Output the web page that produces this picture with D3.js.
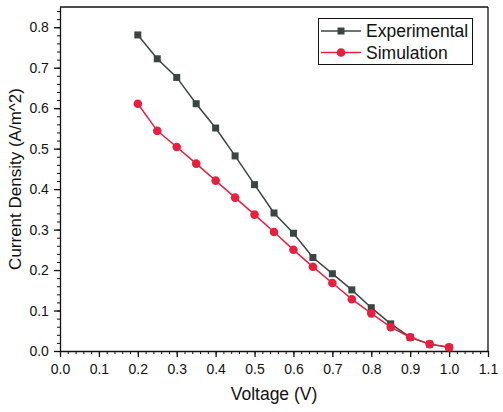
<!DOCTYPE html>
<html>
<head>
<meta charset="utf-8">
<script src="https://cdn.jsdelivr.net/npm/d3@7"></script>
<style>
  body { margin: 0; background: #fff; }
  svg { display: block; font-family: "Liberation Sans", Arial, sans-serif; }
</style>
</head>
<body>
<div id="chart"></div>
<script>
const voltage = [0.2, 0.25, 0.3, 0.35, 0.4, 0.45, 0.5, 0.55, 0.6, 0.65, 0.7, 0.75, 0.8, 0.85, 0.9, 0.95, 1.0];
const experimental = [0.781, 0.722, 0.676, 0.611, 0.551, 0.482, 0.411, 0.341, 0.291, 0.231, 0.191, 0.151, 0.107, 0.067, 0.034, 0.017, 0.009];
const simulation = [0.611, 0.544, 0.504, 0.463, 0.421, 0.379, 0.337, 0.294, 0.25, 0.208, 0.168, 0.128, 0.093, 0.059, 0.034, 0.017, 0.009];
const seriesNames = ["Experimental", "Simulation"];
const xTicks = [0, 0.1, 0.2, 0.3, 0.4, 0.5, 0.6, 0.7, 0.8, 0.9, 1.0, 1.1];
const yTicks = [0, 0.1, 0.2, 0.3, 0.4, 0.5, 0.6, 0.7, 0.8];

const width = 503, height = 412;
const margin = { top: 7, right: 15, bottom: 61, left: 60 };
const grey = "#3d4543", red = "#e8203f";

const svg = d3.select("#chart").append("svg")
  .attr("width", width)
  .attr("height", height);

const x = d3.scaleLinear()
  .domain([0, 1.1])
  .range([margin.left, width - margin.right]);

const y = d3.scaleLinear()
  .domain([0, 0.85])
  .range([height - margin.bottom, margin.top]);

// Minor ticks every 0.02
const xMinor = d3.range(0, 1.1001, 0.02);
const yMinor = d3.range(0, 0.8501, 0.02);

svg.append("g")
  .attr("transform", `translate(0,${y(0)})`)
  .call(d3.axisBottom(x).tickValues(xMinor).tickSize(3).tickFormat(""))
  .call(g => g.select(".domain").remove())
  .selectAll("line").attr("stroke", "#111");

svg.append("g")
  .attr("transform", `translate(${x(0)},0)`)
  .call(d3.axisLeft(y).tickValues(yMinor).tickSize(3).tickFormat(""))
  .call(g => g.select(".domain").remove())
  .selectAll("line").attr("stroke", "#111");

// Major ticks
const xAxis = svg.append("g")
  .attr("transform", `translate(0,${y(0)})`)
  .call(d3.axisBottom(x).tickValues(xTicks).tickSize(6).tickSizeOuter(0).tickFormat(d3.format(".1f")));

const yAxis = svg.append("g")
  .attr("transform", `translate(${x(0)},0)`)
  .call(d3.axisLeft(y).tickValues(yTicks).tickSize(6).tickSizeOuter(0).tickFormat(d3.format(".1f")));

[xAxis, yAxis].forEach(g => {
  g.select(".domain").attr("stroke", "#111").attr("stroke-width", 1.3);
  g.selectAll("line").attr("stroke", "#111").attr("stroke-width", 1.3);
  g.selectAll("text").style("font-size", "14px").attr("fill", "#111");
});
xAxis.selectAll("text").attr("dy", "1.0em");
yAxis.selectAll("text").attr("dx", "-0.15em");

// Top and right frame
svg.append("line")
  .attr("x1", x(0)).attr("x2", x(1.1))
  .attr("y1", y(0.85)).attr("y2", y(0.85))
  .attr("stroke", "#111").attr("stroke-width", 1.3);
svg.append("line")
  .attr("x1", x(1.1)).attr("x2", x(1.1))
  .attr("y1", y(0.85)).attr("y2", y(0))
  .attr("stroke", "#111").attr("stroke-width", 1.3);

// Axis titles
svg.append("text")
  .attr("x", (x(0) + x(1.1)) / 2)
  .attr("y", 400)
  .attr("text-anchor", "middle")
  .style("font-size", "17.5px")
  .attr("fill", "#111")
  .text("Voltage (V)");

svg.append("text")
  .attr("transform", `translate(21,${(y(0) + y(0.85)) / 2}) rotate(-90)`)
  .attr("text-anchor", "middle")
  .style("font-size", "17px")
  .attr("fill", "#111")
  .text("Current Density (A/m^2)");

const line = d3.line()
  .x((d, i) => x(voltage[i]))
  .y(d => y(d));

// Experimental
svg.append("path")
  .datum(experimental)
  .attr("fill", "none")
  .attr("stroke", grey)
  .attr("stroke-width", 1.5)
  .attr("d", line);

svg.append("g")
  .selectAll("rect")
  .data(experimental)
  .join("rect")
  .attr("x", (d, i) => x(voltage[i]) - 3.5)
  .attr("y", d => y(d) - 3.5)
  .attr("width", 7)
  .attr("height", 7)
  .attr("fill", grey);

// Simulation
svg.append("path")
  .datum(simulation)
  .attr("fill", "none")
  .attr("stroke", red)
  .attr("stroke-width", 1.5)
  .attr("d", line);

svg.append("g")
  .selectAll("circle")
  .data(simulation)
  .join("circle")
  .attr("cx", (d, i) => x(voltage[i]))
  .attr("cy", d => y(d))
  .attr("r", 4.3)
  .attr("fill", red);

// Legend
const legend = svg.append("g");
legend.append("rect")
  .attr("x", 318.5).attr("y", 18.5)
  .attr("width", 154).attr("height", 46)
  .attr("fill", "#fff")
  .attr("stroke", "#111")
  .attr("stroke-width", 1);

seriesNames.forEach((name, i) => {
  const cy = 31 + i * 21.5;
  const c = i === 0 ? grey : red;
  legend.append("line")
    .attr("x1", 321).attr("x2", 361)
    .attr("y1", cy).attr("y2", cy)
    .attr("stroke", c).attr("stroke-width", 1.5);
  if (i === 0) {
    legend.append("rect")
      .attr("x", 341 - 3.5).attr("y", cy - 3.5)
      .attr("width", 7).attr("height", 7)
      .attr("fill", c);
  } else {
    legend.append("circle")
      .attr("cx", 341).attr("cy", cy).attr("r", 4.3)
      .attr("fill", c);
  }
  legend.append("text")
    .attr("x", 366).attr("y", cy)
    .attr("dy", "0.36em")
    .style("font-size", "17.5px")
    .attr("fill", "#111")
    .text(name);
});
</script>
</body>
</html>
